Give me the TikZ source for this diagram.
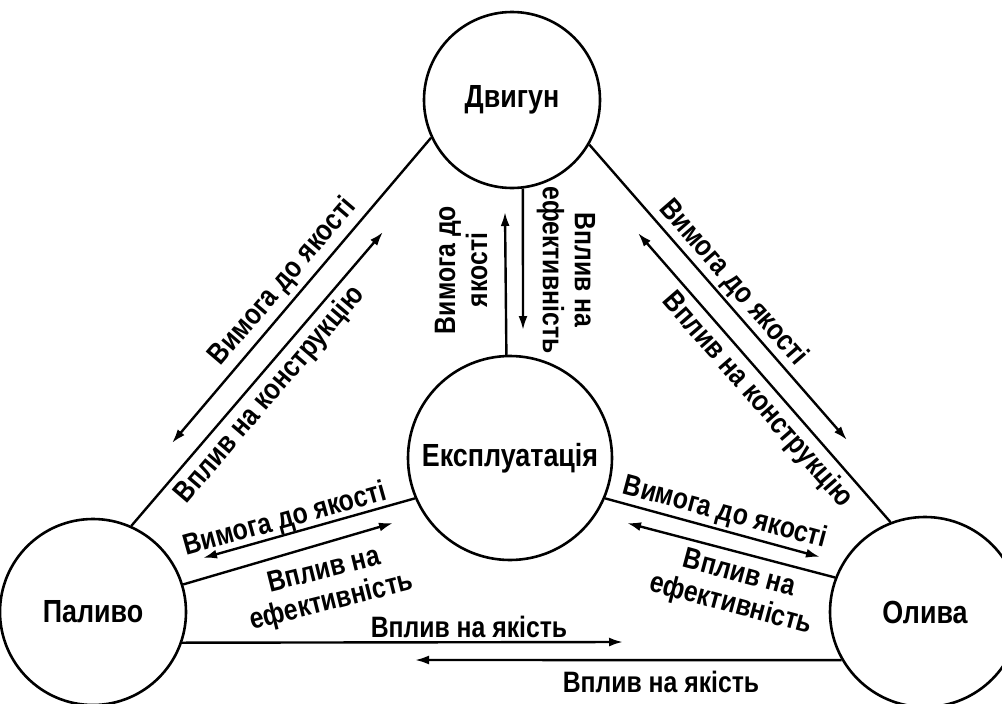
\documentclass[tikz,border=0pt]{standalone}
\usepackage{fontspec}
\setmainfont{Liberation Sans}[FakeStretch=0.84]
\usetikzlibrary{arrows.meta}
\begin{document}
\begin{tikzpicture}[x=1pt,y=-1pt,
  circ/.style={draw,circle,line width=2.6pt,inner sep=0pt,font=\fontsize{32}{36}\selectfont\bfseries},
  lab/.style={font=\fontsize{29.5}{32}\selectfont\bfseries,align=center,inner sep=0pt},
  arr/.style={line width=2.4pt,-{Latex[length=14pt,width=9pt]}}]
\useasboundingbox (0,0) rectangle (1002,704);
\clip (0,0) rectangle (1002,704);
% main circles
\node[circ,minimum size=176pt] (dv) at (512,100) {Двигун};
\node[circ,minimum size=204pt] (ex) at (510,458) {Експлуатація};
\node[circ,minimum size=186pt] (pa) at (93,612) {Паливо};
\node[circ,minimum size=190pt] (ol) at (925,612) {Олива};
% arrow tips
\coordinate (tA) at (172,443);
\coordinate (tB) at (383,232);
\coordinate (tC) at (847,440);
\coordinate (tD) at (638,233);
\coordinate (tV1) at (505,212);
\coordinate (tV2) at (523,330);
\coordinate (tE) at (203,558);
\coordinate (tF) at (393,523);
\coordinate (tG) at (820,557);
\coordinate (tH) at (627,523);
\coordinate (tI) at (623,642);
\coordinate (tJ) at (415,660);
% connectors
\draw[arr] (dv.205.7) -- (tA);
\draw[arr] (pa.66.5) -- (tB);
\draw[arr] (dv.330.2) -- (tC);
\draw[arr] (ol.111.5) -- (tD);
\draw[arr] (ex.92.8) -- (tV1);
\draw[arr] (dv.277.2) -- (tV2);
\draw[arr] (ex.203.2) -- (tE);
\draw[arr] (pa.17.8) -- (tF);
\draw[arr] (ex.337) -- (tG);
\draw[arr] (ol.159.6) -- (tH);
\draw[arr] (pa.341.2) -- (tI);
\draw[arr] (ol.210.3) -- (tJ);
% labels
\node[lab,rotate=49.5] (lA) at (283,282) {Вимога до якості};
\node[lab,rotate=49.5] (lB) at (270,395) {Вплив на конструкцію};
\node[lab,rotate=-49] (lC) at (733,283) {Вимога до якості};
\node[lab,rotate=-49] (lD) at (757,400) {Вплив на конструкцію};
\node[lab,rotate=90] (lV1) at (461,270) {Вимога до\\якості};
\node[lab,rotate=-90] (lV2) at (566,270) {Вплив на\\ефективність};
\node[lab,rotate=15.7] (lE) at (285,520) {Вимога до якості};
\node[lab,rotate=14] (lF) at (328,587) {Вплив на\\ефективність};
\node[lab,rotate=-15] (lG) at (725,513) {Вимога до якості};
\node[lab,rotate=-15] (lH) at (735,590) {Вплив на\\ефективність};
\node[lab] (lI) at (469,627) {Вплив на якість};
\node[lab] (lJ) at (661,682) {Вплив на якість};
\end{tikzpicture}
\end{document}
